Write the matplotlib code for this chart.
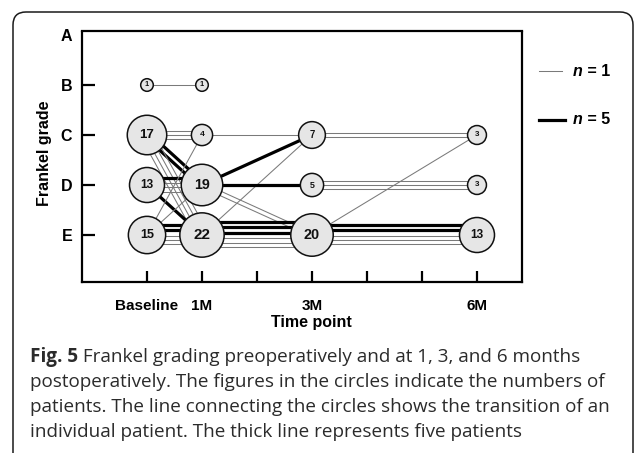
import matplotlib
matplotlib.use('Agg')
import matplotlib.pyplot as plt
from matplotlib.patches import FancyBboxPatch
from matplotlib.lines import Line2D
from matplotlib import transforms
import numpy as np

# ---------------- data ----------------
grades = ['A', 'B', 'C', 'D', 'E']
tick_months = [0, 1, 2, 3, 4, 5, 6]
time_labels = ['Baseline', '1M', '', '3M', '', '', '6M']

node_month = [0, 1, 0, 1, 3, 6, 0, 1, 3, 6, 0, 1, 3, 6]
node_grade = ['B', 'B', 'C', 'C', 'C', 'C', 'D', 'D', 'D', 'D', 'E', 'E', 'E', 'E']
node_count = [1, 1, 17, 4, 7, 3, 13, 19, 5, 3, 15, 22, 20, 13]

tr_from_month = [0, 0, 0, 0, 0, 0, 0, 0, 0, 1, 1, 1, 1, 1, 1, 3, 3, 3, 3]
tr_from_grade = ['B', 'C', 'C', 'C', 'D', 'D', 'E', 'E', 'E', 'C', 'D', 'E', 'D', 'D', 'E', 'C', 'E', 'D', 'E']
tr_to_month = [1, 1, 1, 1, 1, 1, 1, 1, 1, 3, 3, 3, 3, 3, 3, 6, 6, 6, 6]
tr_to_grade = ['B', 'C', 'D', 'E', 'D', 'E', 'C', 'D', 'E', 'C', 'C', 'C', 'D', 'E', 'E', 'C', 'C', 'D', 'E']
tr_patients = [1, 3, 10, 4, 8, 5, 1, 1, 13, 1, 5, 1, 5, 2, 18, 2, 1, 3, 13]

caption_lines = [
    "Frankel grading preoperatively and at 1, 3, and 6 months",
    "postoperatively. The figures in the circles indicate the numbers of",
    "patients. The line connecting the circles shows the transition of an",
    "individual patient. The thick line represents five patients",
]

# ---------------- figure ----------------
W, H = 635, 453
DPI = 100
fig = plt.figure(figsize=(W / DPI, H / DPI), dpi=DPI)
fig.patch.set_facecolor('white')

FONT = 'Liberation Sans'
CAPFONT = 'Open Sans'

# rounded frame
box = FancyBboxPatch((13 / DPI, -0.4), (633 - 13) / DPI, (H - 12) / DPI + 0.4,
                     boxstyle='round,pad=0,rounding_size=0.13',
                     transform=fig.dpi_scale_trans, facecolor='none',
                     edgecolor='#1a1a1a', linewidth=1.1)
fig.patches.append(box)

ax = fig.add_axes([82 / W, 1 - 282 / H, 440 / W, (282 - 31.5) / H])
ax.set_xlim(-65 / 55, 375 / 55)
ax.set_ylim(5 + 47 / 50, 1 - 3.5 / 50)
for s in ax.spines.values():
    s.set_linewidth(1.6)
    s.set_color('black')

gy = {g: i + 1 for i, g in enumerate(grades)}

ax.set_yticks([gy[g] for g in grades])
ax.set_yticklabels(grades, fontsize=11.5, fontweight='bold', family=FONT)
ax.tick_params(axis='y', direction='in', length=9.5, width=1.6, pad=7)
ax.yaxis.get_major_ticks()[0].tick1line.set_visible(False)

ax.set_xticks(tick_months)
ax.set_xticklabels(time_labels, fontsize=11, fontweight='bold', family=FONT)
ax.tick_params(axis='x', direction='in', length=8, width=1.6, pad=12)

fig.canvas.draw()

# transition lines
THIN_C, THICK_C = '#7a7a7a', 'black'
for fm, fg, tm, tg, n in zip(tr_from_month, tr_from_grade, tr_to_month, tr_to_grade, tr_patients):
    p0 = ax.transData.transform((fm, gy[fg]))
    p1 = ax.transData.transform((tm, gy[tg]))
    d = p1 - p0
    d = d / np.hypot(*d)
    perp = np.array([d[1], -d[0]])
    kinds = ['thick'] * (n // 5) + ['thin'] * (n % 5)
    offs = [0.0]
    for i in range(1, len(kinds)):
        gap = 5.5 if 'thick' in (kinds[i - 1], kinds[i]) else 4.3
        offs.append(offs[-1] + gap)
    offs = np.array(offs) - np.mean(offs)
    for k, o in zip(kinds, offs):
        tr = ax.transData + transforms.ScaledTranslation(perp[0] * o / DPI, perp[1] * o / DPI,
                                                          fig.dpi_scale_trans)
        ax.plot([fm, tm], [gy[fg], gy[tg]], transform=tr,
                color=THICK_C if k == 'thick' else THIN_C,
                lw=2.3 if k == 'thick' else 0.75, solid_capstyle='butt', zorder=2)

# circles
cnt = np.array(node_count, dtype=float)
radius_px = 2.0 + 4.3 * np.sqrt(cnt)
sizes = (2 * radius_px * 72 / DPI) ** 2
ax.scatter(node_month, [gy[g] for g in node_grade], s=sizes, facecolor='#e6e6e6',
           edgecolor='#111111', linewidth=1.1, zorder=3)
for m, g, c in zip(node_month, node_grade, node_count):
    ax.text(m, gy[g], str(c), ha='center', va='center', fontsize=5 + 0.27 * c,
            fontweight='bold', family=FONT, color='#111111', zorder=4)

# axis titles
fig.text(311 / W, 1 - 323 / H, 'Time point', ha='center', va='center',
         fontsize=11.5, fontweight='bold', family=FONT)
fig.text(45 / W, 1 - 153 / H, 'Frankel grade', ha='center', va='center', rotation=90,
         fontsize=11.5, fontweight='bold', family=FONT)

# legend
fig.add_artist(Line2D([539 / W, 562 / W], [1 - 71 / H, 1 - 71 / H], color=THIN_C, lw=0.75))
fig.add_artist(Line2D([539 / W, 565 / W], [1 - 120 / H, 1 - 120 / H], color=THICK_C, lw=2.3))
for yy, lab in [(71, ' = 1'), (120, ' = 5')]:
    t1 = fig.text(573 / W, 1 - yy / H, 'n', ha='left', va='center', fontsize=11.5,
                  fontweight='bold', fontstyle='italic', family=FONT)
    fig.canvas.draw()
    bb = t1.get_window_extent()
    fig.text(bb.x1 / W, 1 - yy / H, lab, ha='left', va='center', fontsize=11.5,
             fontweight='bold', family=FONT)

# caption
CAP_C = '#2b2b2b'
renderer = fig.canvas.get_renderer()
fs = 13.0
target = 547
for _ in range(4):
    ta = fig.text(0, 0, 'Fig. 5', fontsize=fs, fontweight='bold', family=CAPFONT)
    tb = fig.text(0, 0, ' ' + caption_lines[0], fontsize=fs, family=CAPFONT)
    wdt = ta.get_window_extent(renderer).width + tb.get_window_extent(renderer).width
    ta.remove(); tb.remove()
    fs *= target / wdt

cap_y = [357, 382, 407, 432]
for i, (yy, line) in enumerate(zip(cap_y, caption_lines)):
    if i == 0:
        ta = fig.text(30 / W, 1 - yy / H, 'Fig. 5', ha='left', va='center', fontsize=fs,
                      fontweight='bold', family=CAPFONT, color=CAP_C)
        bb = ta.get_window_extent(renderer)
        fig.text(bb.x1 / W, 1 - yy / H, ' ' + line, ha='left', va='center', fontsize=fs,
                 family=CAPFONT, color=CAP_C)
    else:
        fig.text(30 / W, 1 - yy / H, line, ha='left', va='center', fontsize=fs,
                 family=CAPFONT, color=CAP_C)

fig.savefig('out.png', dpi=DPI)
